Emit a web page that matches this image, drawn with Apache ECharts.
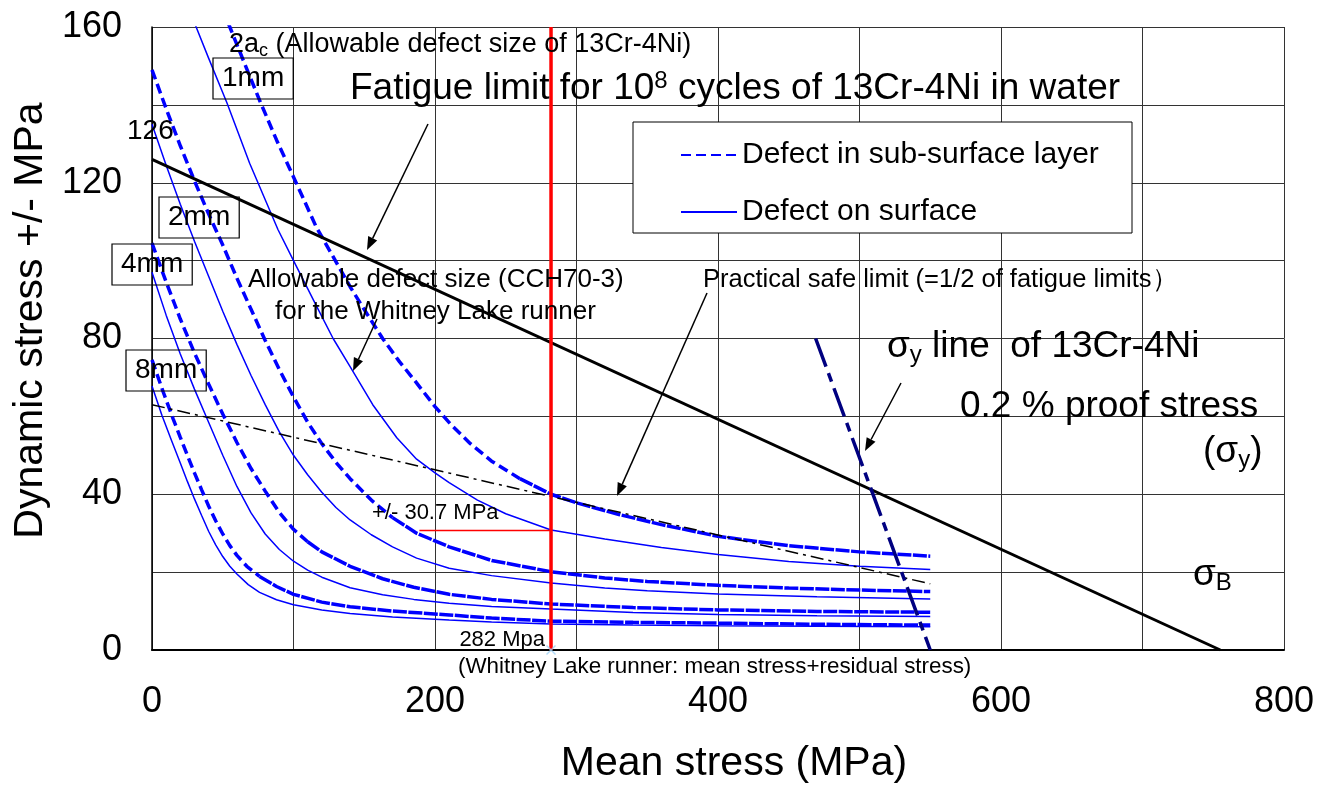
<!DOCTYPE html>
<html>
<head>
<meta charset="utf-8">
<script src="https://cdn.jsdelivr.net/npm/echarts@6/dist/echarts.min.js"></script>
<style>
  html, body { margin: 0; padding: 0; background: #fff; }
  #chart { width: 1333px; height: 785px; }
</style>
</head>
<body>
<div id="chart"></div>
<script>
// allowable defect curves, [mean stress MPa, dynamic stress MPa]
const sub1mm = [[50,164.5],[55,160],[65,151],[76,141.2],[88,131],[100,121.5],[116,108.7],[128,101],[140,93.3],[152,86.3],[163,80],[175,74],[185,69.5],[200,62.5],[211,58],[225,53],[240,48.5],[260,44],[282,40],[300,37.8],[330,34.8],[360,32.2],[400,29.2],[450,26.8],[500,25.2],[550,24.1]]
const surf1mm = [[25,166],[29,162],[40,152],[53,140.5],[69,125],[89,108],[100,100],[116,88.5],[128,80],[140,72.8],[156,63],[173,54.5],[187,49],[200,45.5],[210,43],[230,38.5],[250,35],[282,30.8],[320,28.5],[360,26.3],[400,24.5],[450,22.7],[500,21.5],[550,20.7]]
const sub2mm = [[0,149],[10,139],[20,129.5],[30,120.5],[40,112],[50,104],[60,95.5],[70,87.5],[80,79.5],[90,72],[100,65],[110,58.5],[120,53],[130,48.2],[140,44],[155,38.5],[170,34],[187,30],[210,26.5],[240,23],[282,20.1],[320,18.5],[350,17.6],[400,16.6],[450,15.9],[500,15.4],[550,15]]
const surf2mm = [[0,135],[10,124.5],[20,114.5],[30,105],[40,96],[50,87],[60,78.5],[70,70.5],[80,63],[90,56],[100,50],[110,45],[120,40.5],[130,36.6],[140,33.4],[155,29.6],[170,26.5],[187,23.6],[210,21],[240,19.1],[282,17.2],[320,15.9],[350,15.2],[400,14.4],[470,13.7],[550,13.1]]
const sub4mm = [[0,104.5],[10,94.5],[20,85],[30,76.3],[40,68.3],[50,60.6],[60,53.3],[70,46.6],[80,40.8],[90,35.3],[100,31],[110,27.8],[120,25.2],[140,21.5],[163,18.3],[185,16.1],[210,14.3],[240,13],[282,11.8],[340,10.9],[400,10.3],[470,9.9],[550,9.7]]
const surf4mm = [[0,97],[10,86],[20,76],[30,67],[40,58.5],[50,50],[60,42],[70,35.2],[80,29.8],[90,25.8],[100,22.8],[110,20.5],[120,18.7],[140,16],[163,14.2],[185,13],[210,12],[240,11.2],[282,10.5],[340,9.6],[400,9.1],[470,8.8],[550,8.6]]
const sub8mm = [[0,74.5],[8,66.2],[15,59.3],[20,54.6],[25,50],[30,45.5],[35,41.2],[40,37],[45,33.2],[50,29.8],[55,26.8],[60,24.3],[67,21.5],[76,18.9],[88,16.3],[100,14.3],[120,12.3],[140,11.1],[170,10],[210,9],[240,8.2],[282,7.4],[340,7.1],[400,6.9],[470,6.6],[550,6.4]]
const surf8mm = [[0,67.8],[7,60.3],[14,53.6],[20,48],[25,43.3],[30,38.8],[35,34.6],[40,30.5],[45,27],[50,24],[55,21.5],[60,19.5],[68,16.8],[76,14.8],[88,12.9],[100,11.6],[120,10.3],[140,9.4],[170,8.5],[210,7.7],[240,7.2],[282,6.7],[340,6.4],[400,6.2],[470,6.1],[550,6.0]]

// reference lines
const fatigueLimit = [[0,126],[755,0]]
const safeLimit = [[0,63],[550,17]]
const yieldLine = [[469,80],[550,0]]
const runnerMean = [[282,0],[282,160]]
const runnerAmp = [[189,30.7],[282,30.7]]
const runnerPoint = [[282,0]]

const xLabels = [0, 200, 400, 600, 800]
const yLabels = [0, 40, 80, 120, 160]
const SUB = 'Defect in sub-surface layer'
const SURF = 'Defect on surface'

const FONT = "'Liberation Sans', Arial, sans-serif"
const BLUE = '#0000ff'

// dashed curves look solid where they flatten out, as in the original plot
function splitAt(data, x) {
  const i = data.findIndex(p => p[0] >= x)
  return [data.slice(0, i + 1), data.slice(i)]
}

function blue(name, data, style) {
  return {
    name, type: 'line', data, symbol: 'none', silent: true, z: 3,
    lineStyle: Object.assign({ color: BLUE }, style),
    itemStyle: { color: BLUE },
  }
}

function ref(data, style, z) {
  return { type: 'line', data, symbol: 'none', silent: true, z: z || 4, lineStyle: style }
}

const subCurves = [[sub1mm, 250], [sub2mm, 160], [sub4mm, 105], [sub8mm, 75]]
const series = []
subCurves.forEach(([d, x]) => {
  const [steep, flat] = splitAt(d, x)
  series.push(blue(SUB, steep, { width: 3.5, type: [10, 5] }))
  series.push(blue(SUB, flat, { width: 3.5, type: [14, 1.5] }))
})
;[surf1mm, surf2mm, surf4mm, surf8mm].forEach(d => {
  series.push(blue(SURF, d, { width: 1.5, type: 'solid' }))
})
series.push(ref(fatigueLimit, { color: '#000', width: 3 }))
series.push(ref(safeLimit, { color: '#000', width: 1.5, type: [13, 5, 3, 5] }))
series.push(ref(yieldLine, { color: '#000080', width: 3.5, type: [30, 7, 9, 7] }))
series.push(ref(runnerMean, { color: '#ff0000', width: 3.5 }, 5))
series.push(ref(runnerAmp, { color: '#ff0000', width: 1.5 }, 5))
series.push({
  type: 'scatter', data: runnerPoint, silent: true, z: 6,
  symbol: 'path://M0,1L1,0L5,4L9,0L10,1L6,5L10,9L9,10L5,6L1,10L0,9L4,5Z',
  symbolSize: 10, itemStyle: { color: '#9bd0f5' },
})

function txt(x, y, text, size, extra) {
  return {
    type: 'text', x, y, z: 20, silent: true,
    style: Object.assign({
      text, fill: '#000', fontSize: size, fontFamily: FONT,
      verticalAlign: 'middle', align: 'left',
    }, extra || {}),
  }
}

function box(x, y, text) {
  return txt(x, y, text, 28, {
    verticalAlign: 'top', padding: [3, 9, 3, 9], lineHeight: 35,
    borderColor: '#000', borderWidth: 1.2,
  })
}

function arrow(x1, y1, x2, y2) {
  const a = Math.atan2(y2 - y1, x2 - x1)
  const L = 13, W = 5
  const bx = x2 - L * Math.cos(a), by = y2 - L * Math.sin(a)
  const px = -Math.sin(a) * W, py = Math.cos(a) * W
  return [
    { type: 'line', z: 20, silent: true, shape: { x1, y1, x2: bx, y2: by }, style: { stroke: '#000', lineWidth: 1.5 } },
    { type: 'polygon', z: 20, silent: true, shape: { points: [[x2, y2], [bx + px, by + py], [bx - px, by - py]] }, style: { fill: '#000' } },
  ]
}

const big = { a: { fontSize: 37, lineHeight: 40, fontFamily: FONT }, s: { fontSize: 24, lineHeight: 18, verticalAlign: 'bottom', fontFamily: FONT } }

const graphics = [
  { type: 'rect', z: 1, silent: true, shape: { x: 633, y: 122, width: 499, height: 111 }, style: { fill: '#fff', stroke: '#000', lineWidth: 1 } },
  txt(229, 45, '{a|2a}{s|c}{a| (Allowable defect size of 13Cr-4Ni)}', 27, {
    rich: { a: { fontSize: 27, lineHeight: 30, fontFamily: FONT }, s: { fontSize: 18, lineHeight: 12, verticalAlign: 'bottom', fontFamily: FONT } },
  }),
  txt(350, 89, '{a|Fatigue limit for 10}{p|8}{a| cycles of 13Cr-4Ni in water}', 37, {
    rich: { a: { fontSize: 37, lineHeight: 40, fontFamily: FONT }, p: { fontSize: 24, lineHeight: 24, verticalAlign: 'top', fontFamily: FONT } },
  }),
  txt(127, 131, '126', 28),
  box(213, 58, '1mm'),
  box(159, 197, '2mm'),
  box(112, 244, '4mm'),
  box(126, 350, '8mm'),
  txt(248, 280, 'Allowable defect size (CCH70-3)', 26),
  txt(275, 312, 'for the Whitney Lake runner', 26),
  txt(703, 280, 'Practical safe limit (=1/2 of fatigue limits）', 25.5),
  txt(887, 347, '{a|σ}{s|y}{a| line  of 13Cr-4Ni}', 37, { rich: big }),
  txt(960, 407, '0.2 % proof stress', 37),
  txt(1203, 452, '{a|(σ}{s|y}{a|)}', 37, { rich: big }),
  txt(1193, 575, '{a|σ}{s|B}', 37, { rich: big }),
  txt(372, 513, '+/- 30.7 MPa', 22),
  txt(545, 640, '282 Mpa', 22, { align: 'right' }),
  txt(458, 667, '(Whitney Lake runner: mean stress+residual stress)', 22.4),
  ...arrow(428, 124, 367, 250),
  ...arrow(377, 319, 353, 371),
  ...arrow(707, 293, 617, 496),
  ...arrow(901, 383, 865, 451),
]

const chart = echarts.init(document.getElementById('chart'), null, { renderer: 'canvas' })
chart.setOption({
  animation: false,
  backgroundColor: '#fff',
  grid: { left: 152, right: 49, top: 27, bottom: 135, containLabel: false, outerBoundsMode: 'none' },
  legend: {
    left: 675, top: 133, orient: 'vertical',
    itemWidth: 56, itemHeight: 14, itemGap: 23,
    selectedMode: false,
    data: [SUB, SURF],
    itemStyle: { opacity: 0 },
    textStyle: { fontSize: 30, fontFamily: FONT, color: '#000', lineHeight: 34 },
    z: 10,
  },
  xAxis: {
    type: 'value', min: 0, max: 800, interval: 100,
    name: 'Mean stress (MPa)', nameLocation: 'middle', nameGap: 93,
    nameTextStyle: { fontSize: 41, fontFamily: FONT, color: '#000', padding: [0, 0, 0, 32] },
    axisLine: { show: true, lineStyle: { color: '#000', width: 2 } },
    axisTick: { show: false },
    axisLabel: {
      fontSize: 36, fontFamily: FONT, color: '#000', margin: 34,
      formatter: v => (xLabels.includes(v) ? String(v) : ''),
    },
    splitLine: { show: true, lineStyle: { color: '#333', width: 1 } },
  },
  yAxis: {
    type: 'value', min: 0, max: 160, interval: 20,
    name: 'Dynamic stress +/- MPa', nameLocation: 'middle', nameGap: 100,
    nameTextStyle: { fontSize: 41, fontFamily: FONT, color: '#000', padding: [0, 0, 0, 36] },
    axisLine: { show: true, lineStyle: { color: '#000', width: 1.5 } },
    axisTick: { show: false },
    axisLabel: {
      fontSize: 36, fontFamily: FONT, color: '#000', margin: 30,
      formatter: v => (yLabels.includes(v) ? String(v) : ''),
    },
    splitLine: { show: true, lineStyle: { color: '#333', width: 1 } },
  },
  series,
  graphic: graphics,
})
window.addEventListener('resize', () => chart.resize())
</script>
</body>
</html>
